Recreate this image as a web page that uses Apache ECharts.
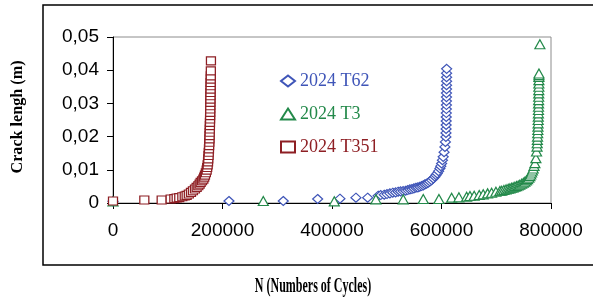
<!DOCTYPE html>
<html>
<head>
<meta charset="utf-8">
<script src="https://cdn.jsdelivr.net/npm/echarts/dist/echarts.min.js"></script>
<style>
html,body{margin:0;padding:0;background:#fff}
#main{width:593px;height:302px}
</style>
</head>
<body>
<div id="main"></div>
<script>
// series names (legend order)
var seriesNames = ['2024 T62', '2024 T3', '2024 T351'];

// 2024 T62 - number of cycles / crack length (m)
var t62Cycles = [0, 211800, 311000, 373800, 414500, 443700, 465100, 484400, 489000, 495400, 500500, 505800,
    511000, 516200, 520800, 525300, 530000, 534500, 538400, 542300, 546000, 549600, 553200, 556900, 560300,
    563700, 566700, 569700, 572700, 575700, 578800, 581900, 585000, 588000, 590100, 592200, 594700, 597100,
    598700, 600200, 601700, 603100, 604700, 606200, 607100, 608000, 608200, 608400, 608500, 608600, 608700,
    608800, 608900, 609000, 609000, 609100, 609100, 609200, 609200, 609300, 609300, 609300, 609400];
var t62Crack = [0.0005, 0.0006, 0.0006, 0.0012, 0.0013, 0.0016, 0.0016, 0.0022, 0.0024, 0.0025, 0.0027, 0.0029,
    0.0031, 0.0032, 0.0034, 0.0035, 0.0036, 0.0037, 0.0039, 0.0041, 0.0042, 0.0044, 0.0046, 0.0047, 0.0049,
    0.0051, 0.0053, 0.0056, 0.0058, 0.0061, 0.0065, 0.0069, 0.0074, 0.0079, 0.0084, 0.0089, 0.0096, 0.0104,
    0.0111, 0.0119, 0.0129, 0.0139, 0.0153, 0.0169, 0.0184, 0.0199, 0.0211, 0.0223, 0.0235, 0.0247, 0.0259,
    0.0271, 0.0283, 0.0295, 0.0307, 0.0319, 0.0331, 0.0343, 0.0355, 0.0367, 0.0379, 0.0391, 0.0404];

// 2024 T3
var t3Cycles = [0, 274500, 404200, 480200, 530100, 566700, 595300, 618500, 631800, 645900, 652000, 659700,
    668900, 676200, 684200, 691500, 699400, 706700, 710000, 714000, 718000, 721800, 725000, 728000, 731000,
    734000, 737000, 740100, 743000, 746300, 749500, 752300, 755000, 757200, 759500, 761400, 763000, 764500,
    766000, 767500, 769000, 770600, 772400, 773600, 774500, 774800, 775100, 775400, 775700, 776000, 776200,
    776400, 776600, 776800, 777000, 777100, 777200, 777300, 777400, 777500, 777600, 777700, 777800, 777800,
    777900, 777900, 778000, 778000, 779700];
var t3Crack = [0.0005, 0.0006, 0.0005, 0.0011, 0.0011, 0.0012, 0.0012, 0.0016, 0.0017, 0.0019, 0.0021, 0.0022,
    0.0024, 0.0026, 0.0029, 0.0031, 0.0034, 0.0036, 0.0037, 0.0039, 0.0041, 0.0043, 0.0044, 0.0046, 0.0047,
    0.0049, 0.0051, 0.0053, 0.0055, 0.0058, 0.0061, 0.0064, 0.0068, 0.0072, 0.0076, 0.0081, 0.0086, 0.0092,
    0.0098, 0.0104, 0.0112, 0.012, 0.0135, 0.0155, 0.017, 0.018, 0.019, 0.02, 0.021, 0.022, 0.023,
    0.024, 0.025, 0.026, 0.027, 0.028, 0.029, 0.030, 0.031, 0.032, 0.033, 0.034, 0.035, 0.036,
    0.037, 0.038, 0.0385, 0.039, 0.0478];

// 2024 T351
var t351Cycles = [0, 57200, 88900, 105300, 112000, 116300, 121000, 126600, 131000, 134500, 138500, 142400,
    146000, 149700, 152800, 155800, 158200, 160100, 162600, 165000, 166600, 168000, 169600, 171100, 172000,
    172900, 173600, 174000, 174500, 174900, 175300, 175600, 175900, 176200, 176400, 176600, 176800, 177000,
    177100, 177300, 177400, 177500, 177600, 177700, 177800, 177900, 178000, 178100, 178200, 178300, 178400,
    178500, 178600, 178700, 178900];
var t351Crack = [0.0006, 0.0009, 0.0009, 0.0012, 0.0013, 0.0015, 0.0016, 0.0019, 0.0021, 0.0023, 0.0027, 0.0032,
    0.0037, 0.0042, 0.0047, 0.0052, 0.0057, 0.0062, 0.0067, 0.0072, 0.0078, 0.0084, 0.0091, 0.0099, 0.0107,
    0.0115, 0.0124, 0.0133, 0.0143, 0.0153, 0.0163, 0.0173, 0.0183, 0.0193, 0.0203, 0.0213, 0.0223, 0.0233,
    0.0243, 0.0253, 0.0263, 0.0273, 0.0283, 0.0293, 0.0303, 0.0313, 0.0323, 0.0333, 0.0343, 0.0353, 0.0363,
    0.0373, 0.0383, 0.0398, 0.0428];

// axis ticks
var xTicks = [0, 200000, 400000, 600000, 800000];
var yTicks = [0, 0.01, 0.02, 0.03, 0.04, 0.05];

var colors = ['#3F55B8', '#23894A', '#8E1F24'];

function pairs(xs, ys) {
    var out = [];
    for (var i = 0; i < xs.length; i++) out.push([xs[i], ys[i]]);
    return out;
}

var myChart = echarts.init(document.getElementById('main'));

var option = {
    animation: false,
    grid: { left: 113, top: 37, right: 42, bottom: 99, show: true, borderColor: '#8c8c8c', borderWidth: 1, outerBoundsMode: 'none' },
    legend: {
        orient: 'vertical', left: 275, top: 67, itemGap: 15, itemWidth: 14, itemHeight: 11,
        textStyle: { fontFamily: 'Liberation Serif', fontSize: 18 },
        data: [
            { name: seriesNames[0], textStyle: { color: colors[0] } },
            { name: seriesNames[1], textStyle: { color: colors[1] } },
            { name: seriesNames[2], textStyle: { color: colors[2] } }
        ]
    },
    xAxis: {
        type: 'value',
        min: xTicks[0], max: xTicks[xTicks.length - 1], interval: xTicks[1] - xTicks[0],
        axisLine: { show: true, lineStyle: { color: '#000', width: 1 } },
        axisTick: { show: true, length: 6, lineStyle: { color: '#000' } },
        splitLine: { show: false },
        axisLabel: {
            color: '#000', fontFamily: 'Liberation Sans', fontSize: 19, margin: 18,
            formatter: function (v) { return String(v); }
        }
    },
    yAxis: {
        type: 'value',
        min: yTicks[0], max: yTicks[yTicks.length - 1], interval: 0.01,
        axisLine: { show: true, lineStyle: { color: '#000', width: 1 } },
        axisTick: { show: true, length: 6, lineStyle: { color: '#000' } },
        splitLine: { show: false },
        axisLabel: {
            color: '#000', fontFamily: 'Liberation Sans', fontSize: 19, margin: 14,
            formatter: function (v) { return v === 0 ? '0' : v.toFixed(2).replace('.', ','); }
        }
    },
    series: [
        {
            name: seriesNames[0], type: 'scatter', symbol: 'diamond', symbolSize: [10, 9],
            itemStyle: { color: '#fff', borderColor: colors[0], borderWidth: 1.2, opacity: 1 },
            data: pairs(t62Cycles, t62Crack)
        },
        {
            name: seriesNames[1], type: 'scatter', symbol: 'triangle', symbolSize: [10, 9],
            itemStyle: { color: '#fff', borderColor: colors[1], borderWidth: 1.2, opacity: 1 },
            data: pairs(t3Cycles, t3Crack)
        },
        {
            name: seriesNames[2], type: 'scatter', symbol: 'rect', symbolSize: [9, 8],
            itemStyle: { color: '#fff', borderColor: colors[2], borderWidth: 1.2, opacity: 1 },
            data: pairs(t351Cycles, t351Crack)
        }
    ],
    graphic: [
        // outer frame
        { type: 'rect', z: -1, shape: { x: 43, y: 5, width: 600, height: 260 },
          style: { fill: 'none', stroke: '#000', lineWidth: 1.5 } },
        // axis titles (condensed bold serif)
        { type: 'text', x: 18, y: 117, rotation: Math.PI / 2, scaleX: 0.95,
          style: { text: 'Crack lengh (m)', fontFamily: 'Liberation Serif', fontWeight: 'bold', fontSize: 17,
                   fill: '#000', textAlign: 'center', textVerticalAlign: 'middle' } },
        { type: 'text', x: 313, y: 287, scaleX: 0.6,
          style: { text: 'N (Numbers of Cycles)', fontFamily: 'Liberation Serif', fontWeight: 'bold', fontSize: 20,
                   fill: '#000', textAlign: 'center', textVerticalAlign: 'middle' } }
    ]
};

myChart.setOption(option);
</script>
</body>
</html>
